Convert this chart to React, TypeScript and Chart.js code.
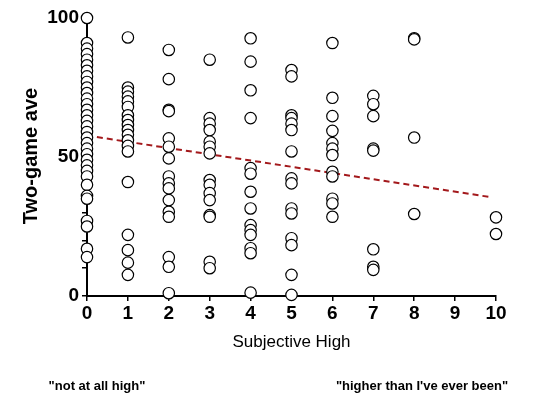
import React, { useEffect, useRef } from "react";
import { Chart, registerables } from "chart.js";

Chart.register(...registerables);

const xCategories = [0, 1, 2, 3, 4, 5, 6, 7, 8, 9, 10];
const yTickLabels = [0, 50, 100];

const high0 = [100, 91, 89, 87, 85, 83, 81, 79, 77, 75, 73, 71, 69, 67, 65, 63, 61, 59, 57, 55, 53, 51, 49, 47, 45, 43, 40, 36, 35, 27, 25, 17, 14];
const high1 = [93, 75, 73.5, 71.7, 70, 68, 65, 63.3, 61.5, 59.7, 58, 56, 54, 52, 41, 22, 16.5, 12, 7.6];
const high2 = [88.5, 78, 67, 66.5, 56.7, 53.7, 49.5, 43, 40.5, 38.7, 34.5, 30.3, 28.5, 14, 10.5, 1];
const high3 = [85, 64, 62, 59.7, 55.5, 53.7, 51.3, 41.7, 40, 37, 34.5, 29.1, 28.5, 12.3, 10];
const high4 = [92.7, 84.3, 74, 64, 46, 44, 37.5, 31.5, 25.5, 23.7, 22, 17.2, 15.4, 1.2];
const high5 = [81.3, 79, 65, 64, 62, 59.7, 52, 42.3, 40.5, 31.5, 29.7, 20.8, 18.3, 7.6, 0.4];
const high6 = [91, 71.3, 64.7, 59.4, 55, 53, 50.7, 44.7, 43, 35, 33.3, 28.5];
const high7 = [72, 69, 64.7, 53, 52.3, 16.8, 10.5, 9.4];
const high8 = [92.7, 92.3, 57, 29.5];
const high9: number[] = [];
const high10 = [28.3, 22.3];

const columns = [high0, high1, high2, high3, high4, high5, high6, high7, high8, high9, high10];

const fitX = [0, 9.9];
const fitY = [57.7, 35.5];

export default function App() {
  const ref = useRef<HTMLCanvasElement | null>(null);

  useEffect(() => {
    if (!ref.current) return;
    const points: { x: number; y: number }[] = [];
    columns.forEach((col, i) => {
      col.forEach((v) => points.push({ x: xCategories[i], y: v }));
    });
    const fit = fitX.map((x, i) => ({ x, y: fitY[i] }));

    const textPlugin = {
      id: "texts",
      afterDraw(chart: any) {
        const ctx = chart.ctx;
        const xs = chart.scales.x;
        ctx.save();
        ctx.fillStyle = "#000";
        ctx.textAlign = "center";
        ctx.textBaseline = "middle";
        ctx.font = "17px 'Liberation Sans', Arial, sans-serif";
        ctx.fillText("Subjective High", (xs.left + xs.right) / 2, 342);
        ctx.font = "bold 13px 'Liberation Sans', Arial, sans-serif";
        ctx.fillText('"not at all high"', 97, 386);
        ctx.fillText('"higher than I\'ve ever been"', 422, 386);
        ctx.translate(31, 156);
        ctx.rotate(-Math.PI / 2);
        ctx.font = "bold 20px 'Liberation Sans', Arial, sans-serif";
        ctx.fillText("Two-game ave", 0, 0);
        ctx.restore();
      },
    };

    const chart = new Chart(ref.current, {
      type: "scatter",
      data: {
        datasets: [
          {
            type: "line",
            data: fit,
            borderColor: "#a3191c",
            borderWidth: 2,
            borderDash: [6, 4],
            pointRadius: 0,
            fill: false,
            order: 2,
          } as any,
          {
            data: points,
            pointRadius: 5.7,
            pointBackgroundColor: "#ffffff",
            pointBorderColor: "#000000",
            pointBorderWidth: 1.2,
            clip: false,
            order: 1,
          } as any,
        ],
      },
      options: {
        animation: false,
        responsive: false,
        maintainAspectRatio: false,
        layout: { padding: { left: 0, right: 54, top: 18, bottom: 0 } },
        plugins: { legend: { display: false }, tooltip: { enabled: false } },
        scales: {
          x: {
            type: "linear",
            min: 0,
            max: 10,
            afterFit(scale: any) {
              scale.height = 100;
            },
            afterBuildTicks(scale: any) {
              scale.ticks = xCategories.map((v) => ({ value: v }));
            },
            ticks: {
              color: "#000",
              padding: 1,
              font: { family: "'Liberation Sans', Arial, sans-serif", size: 19, weight: "bold" },
              autoSkip: false,
              maxRotation: 0,
              callback: (v: any) => String(v),
            },
            grid: { drawOnChartArea: false, drawTicks: true, tickLength: 5, color: "#000", lineWidth: 1.5 },
            border: { display: true, color: "#000", width: 2 },
          },
          y: {
            type: "linear",
            min: 0,
            max: 100,
            afterFit(scale: any) {
              scale.width = 87;
            },
            ticks: {
              stepSize: 10,
              autoSkip: false,
              color: "#000",
              padding: 3,
              font: { family: "'Liberation Sans', Arial, sans-serif", size: 19, weight: "bold" },
              callback: (v: any) => (yTickLabels.includes(Number(v)) ? String(v) : ""),
            },
            grid: { drawOnChartArea: false, drawTicks: true, tickLength: 5, color: "#000", lineWidth: 1.5 },
            border: { display: true, color: "#000", width: 2 },
          },
        },
      },
      plugins: [textPlugin],
    });
    return () => chart.destroy();
  }, []);

  return (
    <div style={{ position: "fixed", left: 0, top: 0, width: 550, height: 396, background: "#fff" }}>
      <canvas ref={ref} width={550} height={396} style={{ width: 550, height: 396 }} />
    </div>
  );
}
